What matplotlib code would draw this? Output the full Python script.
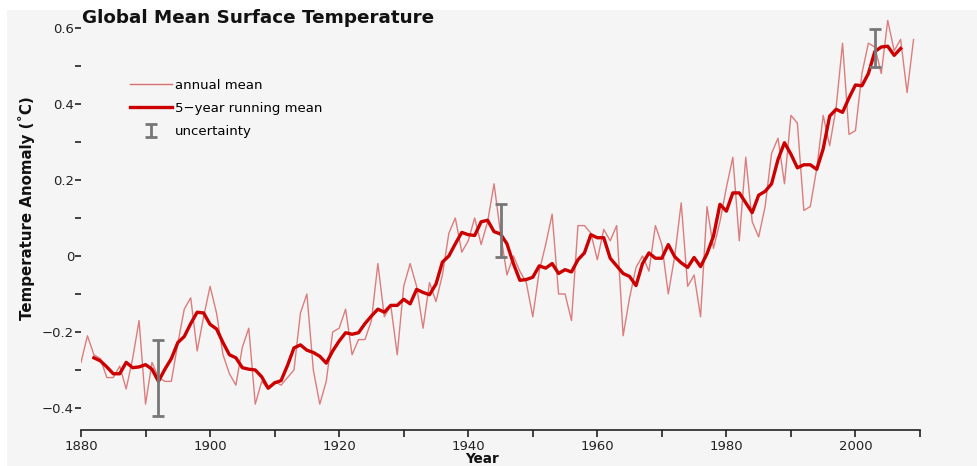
import matplotlib
matplotlib.use("Agg")
import matplotlib.pyplot as plt
from matplotlib.lines import Line2D
from matplotlib.patches import Rectangle

# ---- data ----
years = list(range(1880, 2010))
annual_mean = [
    -0.28, -0.21, -0.26, -0.27, -0.32, -0.32, -0.29, -0.35, -0.27, -0.17,
    -0.39, -0.28, -0.32, -0.33, -0.33, -0.23, -0.14, -0.11, -0.25, -0.16,
    -0.08, -0.15, -0.26, -0.31, -0.34, -0.24, -0.19, -0.39, -0.33, -0.35,
    -0.33, -0.34, -0.32, -0.30, -0.15, -0.10, -0.30, -0.39, -0.33, -0.20,
    -0.19, -0.14, -0.26, -0.22, -0.22, -0.17, -0.02, -0.16, -0.13, -0.26,
    -0.08, -0.02, -0.08, -0.19, -0.07, -0.12, -0.05, 0.06, 0.10, 0.01,
    0.04, 0.10, 0.03, 0.09, 0.19, 0.06, -0.05, 0.00, -0.04, -0.07,
    -0.16, -0.04, 0.03, 0.11, -0.10, -0.10, -0.17, 0.08, 0.08, 0.06,
    -0.01, 0.07, 0.04, 0.08, -0.21, -0.11, -0.03, 0.00, -0.04, 0.08,
    0.03, -0.10, 0.00, 0.14, -0.08, -0.05, -0.16, 0.13, 0.02, 0.09,
    0.18, 0.26, 0.04, 0.26, 0.09, 0.05, 0.13, 0.27, 0.31, 0.19,
    0.37, 0.35, 0.12, 0.13, 0.23, 0.37, 0.29, 0.39, 0.56, 0.32,
    0.33, 0.48, 0.56, 0.55, 0.48, 0.62, 0.54, 0.57, 0.43, 0.57,
]

run_years = list(range(1882, 2008))
running_mean = [
    -0.268, -0.276, -0.292, -0.310, -0.310, -0.280, -0.294, -0.292, -0.286, -0.298,
    -0.330, -0.298, -0.270, -0.228, -0.212, -0.178, -0.148, -0.150, -0.180, -0.192,
    -0.228, -0.260, -0.268, -0.294, -0.298, -0.300, -0.318, -0.348, -0.334, -0.328,
    -0.288, -0.242, -0.234, -0.248, -0.254, -0.264, -0.282, -0.250, -0.224, -0.202,
    -0.206, -0.202, -0.178, -0.158, -0.140, -0.148, -0.130, -0.130, -0.114, -0.126,
    -0.088, -0.096, -0.102, -0.074, -0.016, 0.000, 0.032, 0.062, 0.056, 0.054,
    0.090, 0.094, 0.064, 0.058, 0.032, -0.020, -0.064, -0.062, -0.056, -0.026,
    -0.032, -0.020, -0.046, -0.036, -0.042, -0.010, 0.008, 0.056, 0.048, 0.048,
    -0.006, -0.026, -0.046, -0.054, -0.078, -0.020, 0.008, -0.006, -0.006, 0.030,
    -0.002, -0.018, -0.030, -0.004, -0.028, 0.006, 0.052, 0.136, 0.118, 0.166,
    0.166, 0.140, 0.114, 0.160, 0.170, 0.190, 0.254, 0.298, 0.268, 0.232,
    0.240, 0.240, 0.228, 0.282, 0.368, 0.386, 0.378, 0.416, 0.450, 0.448,
    0.480, 0.538, 0.550, 0.552, 0.528, 0.546,
]

unc_years = [1892, 1945, 2003]
unc_center = [-0.322, 0.068, 0.548]
unc_half = [0.100, 0.070, 0.050]

x_major = [1880, 1900, 1920, 1940, 1960, 1980, 2000]
x_minor = [1890, 1910, 1930, 1950, 1970, 1990, 2010]
y_major = [-0.4, -0.2, 0.0, 0.2, 0.4, 0.6]
y_major_labels = ["\u22120.4", "\u22120.2", "0", "0.2", "0.4", "0.6"]
y_minor = [-0.3, -0.1, 0.1, 0.3, 0.5]

# ---- figure ----
W, H = 977, 466
fig = plt.figure(figsize=(W / 100, H / 100), dpi=100)
fig.patch.set_facecolor("white")
bg = "#f5f5f5"
fig.patches.append(Rectangle((7 / W, 0), 1, 1 - 10 / H, transform=fig.transFigure,
                             facecolor=bg, edgecolor="none", zorder=-10))

ax = fig.add_axes([81 / W, 1 - 430 / H, (920 - 81) / W, (430 - 12.8) / H])
ax.set_facecolor("none")

ax.plot(years, annual_mean, color="#d97070", lw=1.0, alpha=0.9, label="annual mean", zorder=2)
ax.plot(run_years, running_mean, color="#cc0000", lw=2.4, label="5\u2212year running mean", zorder=3)
eb = ax.errorbar(unc_years, unc_center, yerr=unc_half, fmt="none", ecolor="#777777",
                 elinewidth=2.0, capsize=4, capthick=2.0, label="uncertainty", zorder=4)

ax.set_xlim(1880, 2010)
ax.set_ylim(-0.458, 0.64)

for s in ["top", "right", "left"]:
    ax.spines[s].set_visible(False)
ax.spines["bottom"].set_color("#222222")
ax.spines["bottom"].set_linewidth(1.2)

ax.set_xticks(x_major)
ax.set_xticks(x_minor, minor=True)
ax.set_xticklabels([str(v) for v in x_major])
ax.tick_params(axis="x", which="both", direction="out", length=5, width=1.2,
               color="#222222", labelsize=9.5, labelcolor="#222222", pad=2)

ax.set_yticks(y_major)
ax.set_yticklabels(y_major_labels)
ax.set_yticks(y_minor, minor=True)
ax.tick_params(axis="y", which="both", direction="out", length=4, width=1.2,
               color="#222222", labelsize=9.5, labelcolor="#222222", pad=1)

fig.text(82 / W, 1 - 18 / H, "Global Mean Surface Temperature", fontsize=13.2,
         fontweight="bold", ha="left", va="center", color="#111111")
fig.text(27 / W, 1 - 208 / H, "Temperature Anomaly (\u02daC)", fontsize=10.8,
         fontweight="bold", rotation=90, ha="center", va="center", color="#111111")
fig.text(482 / W, 1 - 452 / H, "Year", fontsize=9.8, fontweight="bold",
         ha="center", va="top", color="#111111")

handles = [Line2D([], [], color="#d97070", lw=1.0),
           Line2D([], [], color="#cc0000", lw=2.4),
           eb]
leg = ax.legend(handles, ["annual mean", "5\u2212year running mean", "uncertainty"],
                loc="upper left", bbox_to_anchor=(130 / W, 1 - 79 / H),
                bbox_transform=fig.transFigure, frameon=False, fontsize=9.5,
                handlelength=3.2, handletextpad=0.2, labelspacing=0.75,
                borderpad=0, borderaxespad=0)

fig.savefig("out.png", dpi=100, facecolor=fig.get_facecolor())
